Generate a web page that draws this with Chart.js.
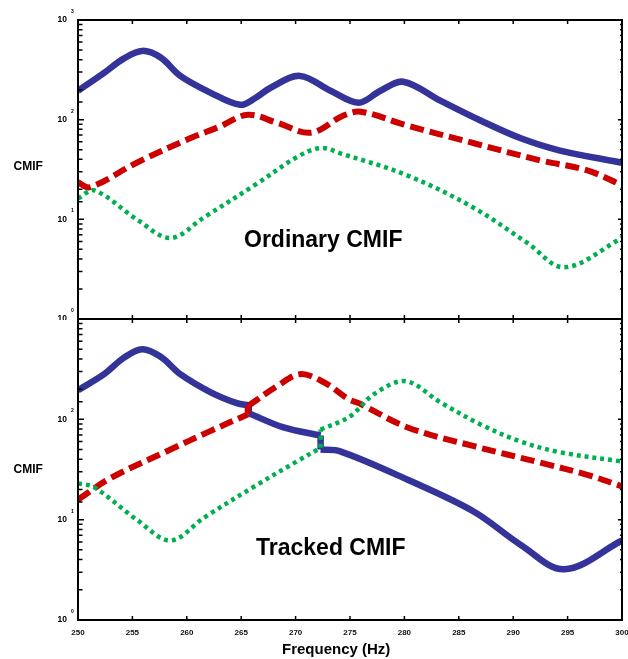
<!DOCTYPE html>
<html><head><meta charset="utf-8">
<script src="https://cdn.jsdelivr.net/npm/chart.js@4.4.1/dist/chart.umd.min.js"></script>
<style>
html,body{margin:0;padding:0;background:#fff;width:628px;height:659px;overflow:hidden}
.wrap{position:absolute;left:0;width:628px}
</style></head><body>
<div class="wrap" style="top:0;height:320px"><canvas id="c1" width="628" height="320"></canvas></div>
<div class="wrap" style="top:300px;height:359px"><canvas id="c2" width="628" height="359"></canvas></div>
<script>
// ---- tick labels ----
const freqTicks = [250,255,260,265,270,275,280,285,290,295,300];
const decadeTicks = [1,10,100,1000];

// ---- Ordinary CMIF ----
const ordBlueF  = [250,252.4,254.2,255.9,257.6,259.4,262.2,264.9,266.3,267.7,270.4,273.2,275.8,277.8,279.9,283.3,287,290.7,294.3,300];
const ordBlueV  = [195,295,410,490,420,275,186,141,165,209,275,195,148,195,240,155,98,65,49,37];
const ordRedF   = [250,251.1,255.4,260.3,263,265.6,268.3,271.4,274.4,276,280.3,286.4,292.5,296.8,300];
const ordRedV   = [23.5,21,37,65,85,112,93,74,110,120,87,58,39,31,22];
const ordGreenF = [250,251.5,255.4,258.5,261.6,266.5,270.1,272.3,274.1,280.3,286.4,291.3,294.7,300];
const ordGreenV = [16.2,19.5,10,6.5,10.5,23,42,52,46,27.5,13,5.8,3.3,6.5];

// ---- Tracked CMIF (repeated frequency = vertical jump) ----
const trkBlueF  = [250,252.4,254.2,255.9,257.6,259.4,262.2,264.6,265.7,265.7,268.9,272.3,272.3,274.1,280.3,286.4,290.7,294.7,300];
const trkBlueV  = [195,282,410,500,420,282,186,145,138,115,83,69,50,48,25,12,5.6,3.2,6.2];
const trkRedF   = [250,253,258.5,262,265.6,265.6,268.3,270.4,272.6,274.9,275.8,280.3,286.4,292.5,296.8,300];
const trkRedV   = [15.8,26,50,75,112,135,214,282,234,158,145,83,54,37,28,21.5];
const trkGreenF = [250,251.5,255.4,258.5,261.6,266.5,270.1,272.3,272.3,275,277.2,280.1,283.3,287,290.7,294.3,300];
const trkGreenV = [23,21,10,6.2,10.5,22.4,38,52,79,107,178,240,148,89,60,47,38];

const BLUE = '#333399', RED = '#cc0000', GREEN = '#00b050';
const FONT = '"Liberation Sans", Arial, sans-serif';
const STYLE = {
  blue:{borderColor:BLUE, borderWidth:6.5},
  red:{borderColor:RED, borderWidth:6, borderDash:[14,6], borderCapStyle:'butt'},
  green:{borderColor:GREEN, borderWidth:4.5, borderDash:[4,4], borderCapStyle:'butt'}
};

function isDecade(v){ return decadeTicks.includes(v); }

// split a curve at repeated frequencies: smooth pieces + straight vertical connectors
function curveDatasets(f, v, style){
  const out = [];
  let piece = [];
  for (let i = 0; i < f.length; i++){
    if (i > 0 && f[i] === f[i-1]){
      out.push(Object.assign({data:piece, tension:0.35}, style));
      out.push(Object.assign({data:[{x:f[i-1],y:v[i-1]},{x:f[i],y:v[i]}], tension:0}, style));
      piece = [];
    }
    piece.push({x:f[i], y:v[i]});
  }
  out.push(Object.assign({data:piece, tension:0.35}, style));
  return out;
}

function datasets(bF,bV,rF,rV,gF,gV){
  return [].concat(curveDatasets(gF,gV,STYLE.green), curveDatasets(rF,rV,STYLE.red), curveDatasets(bF,bV,STYLE.blue));
}

const framePlugin = {
  id:'frame',
  afterDatasetsDraw(chart, args, o){
    const {ctx, chartArea:a} = chart;
    const x = chart.scales.x, y = chart.scales.y;
    ctx.save();
    ctx.strokeStyle = '#000';
    ctx.lineWidth = 1.5;
    y.ticks.forEach(t=>{
      const py = y.getPixelForValue(t.value);
      const major = isDecade(t.value);
      ctx.beginPath();
      ctx.moveTo(a.left, py); ctx.lineTo(a.left + (major?6:4.5), py);
      ctx.moveTo(a.right, py); ctx.lineTo(a.right - (major?4:2), py);
      ctx.stroke();
    });
    freqTicks.forEach(v=>{
      const px = x.getPixelForValue(v);
      ctx.beginPath();
      ctx.moveTo(px, a.top); ctx.lineTo(px, a.top + 4);
      ctx.moveTo(px, a.bottom); ctx.lineTo(px, a.bottom - 4);
      ctx.stroke();
    });
    ctx.lineWidth = 2;
    ctx.strokeRect(a.left, a.top, a.right - a.left, a.bottom - a.top);
    ctx.fillStyle = '#000';
    ctx.font = 'bold 5px ' + FONT;
    ctx.textAlign = 'left';
    ctx.textBaseline = 'middle';
    o.exps.forEach(v=>{
      const py = y.getPixelForValue(v);
      ctx.fillText(String(Math.round(Math.log10(v))), a.left - 7, py - 8.5);
    });
    o.texts.forEach(t=>{
      ctx.font = t.font;
      ctx.textBaseline = 'alphabetic';
      ctx.fillText(t.s, t.x, t.y);
    });
    ctx.restore();
  }
};

function makeChart(id, ds, showX, exps, texts, padTop, padBottom){
  return new Chart(document.getElementById(id), {
    type:'line',
    data:{datasets:ds},
    options:{
      responsive:false, animation:false,
      elements:{point:{radius:0}, line:{fill:false}},
      layout:{padding:{left:0,right:6,top:padTop,bottom:padBottom}},
      plugins:{legend:{display:false}, tooltip:{enabled:false}, frame:{exps:exps, texts:texts}},
      scales:{
        x:{type:'linear', min:250, max:300, display:showX,
           grid:{display:false, drawTicks:false}, border:{display:false},
           afterBuildTicks:(s)=>{ s.ticks = freqTicks.map(v=>({value:v})); },
           afterFit:(s)=>{ s.height = showX ? 20 : 0; s.paddingLeft = 0; s.paddingRight = 0; },
           ticks:{autoSkip:false, maxRotation:0, padding:8, color:'#111', font:{family:FONT, size:8, weight:'bold'}}
        },
        y:{type:'logarithmic', min:1, max:1000,
           grid:{display:false, drawTicks:false}, border:{display:false},
           afterFit:(s)=>{ s.width = 78; s.paddingTop = 0; s.paddingBottom = 0; },
           ticks:{autoSkip:false, padding:11, color:'#000', font:{family:FONT, size:8.5, weight:'bold'},
             callback:(v)=> exps.includes(v) ? '10' : ''}
        }
      }
    },
    plugins:[framePlugin]
  });
}

makeChart('c1', datasets(ordBlueF,ordBlueV,ordRedF,ordRedV,ordGreenF,ordGreenV), false,
  [1,10,100,1000],
  [{s:'Ordinary CMIF', x:244, y:247, font:'bold 23px '+FONT},
   {s:'CMIF', x:13.5, y:170, font:'bold 12px '+FONT}],
  20, 1);

makeChart('c2', datasets(trkBlueF,trkBlueV,trkRedF,trkRedV,trkGreenF,trkGreenV), true,
  [1,10,100],
  [{s:'Tracked CMIF', x:256, y:255, font:'bold 23px '+FONT},
   {s:'CMIF', x:13.5, y:173, font:'bold 12px '+FONT},
   {s:'Frequency (Hz)', x:282, y:354, font:'bold 15px '+FONT}],
  19, 19);
</script>
</body></html>
